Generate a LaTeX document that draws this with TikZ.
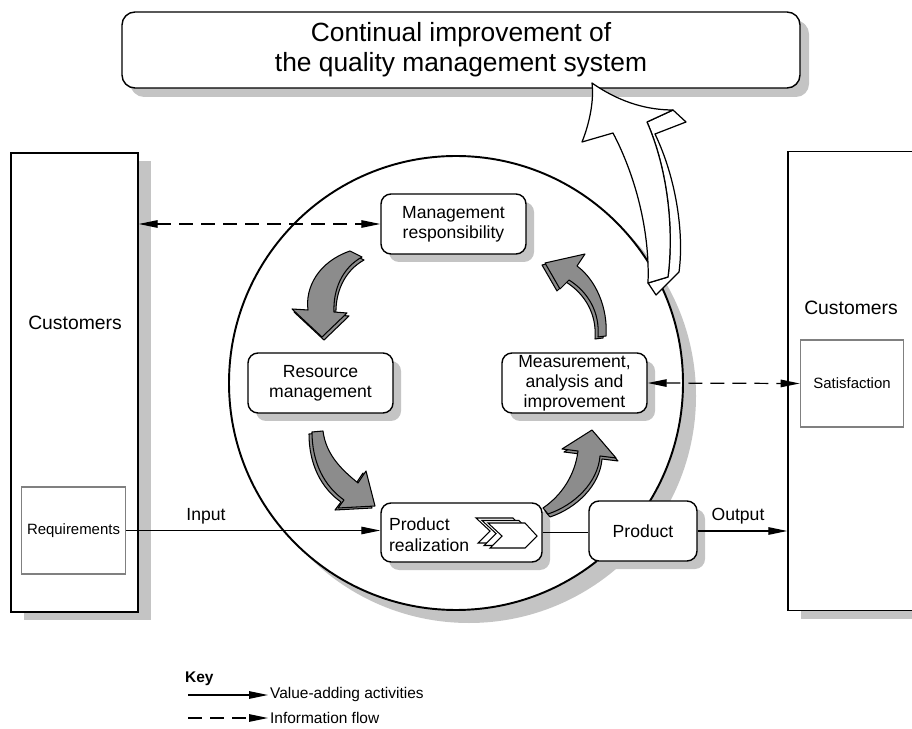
\documentclass[tikz,border=0pt]{standalone}
\usepackage{fontspec}
\setmainfont{Liberation Sans}
\usetikzlibrary{arrows.meta}
\usetikzlibrary{shadows}
\definecolor{shadowgrey}{HTML}{C4C4C4}
\definecolor{arrowgrey}{HTML}{8C8C8C}
\tikzset{
	>={Triangle[length=3.8mm,width=1.5mm]},
	boxshadow/.style={general shadow={fill=shadowgrey,shadow xshift=1.6mm,shadow yshift=-1.6mm}},
	procbox/.style={draw,fill=white,rounded corners=2mm,line width=0.8pt,minimum width=29mm,minimum height=12mm,inner sep=0pt,align=center,font=\fontsize{10}{11.5}\selectfont,boxshadow},
	custbox/.style={draw,fill=white,line width=0.8pt,minimum width=25.4mm,minimum height=91.8mm,inner sep=0pt,general shadow={fill=shadowgrey,shadow xshift=2.6mm,shadow yshift=-1.6mm}},
	needbox/.style={draw=gray,fill=white,line width=0.6pt,minimum width=20.7mm,minimum height=17.4mm,inner sep=0pt,font=\fontsize{8.5}{10}\selectfont},
	label text/.style={inner sep=1pt,font=\fontsize{10}{12}\selectfont},
	key text/.style={anchor=west,inner sep=1pt,font=\fontsize{8.8}{10}\selectfont},
	flow/.style={line width=0.7pt,->},
	info/.style={line width=0.7pt,dash pattern=on 2.8mm off 1.6mm},
	turn/.style={draw,fill=arrowgrey,line width=0.6pt,line join=round},
	bigturn/.style={draw,fill=white,line width=0.7pt,line join=round}
}
\begin{document}
\begin{tikzpicture}[x=0.2mm,y=-0.2mm]
	\useasboundingbox (0,0) rectangle (912,729);
	\clip (0,0) rectangle (912,729);
	\node[procbox,rounded corners=2.6mm,minimum width=135.6mm,minimum height=15.2mm,font=\fontsize{15}{17}\selectfont,general shadow={fill=shadowgrey,shadow xshift=1.8mm,shadow yshift=-1.8mm}] (title) at (461,50) {Continual improvement of\\the quality management system};
	\node[custbox] (custL) at (74.5,382.5) {};
	\node[custbox] (custR) at (851.5,381) {};
	\node[label text,font=\fontsize{11}{13}\selectfont] (custLtext) at (75,323) {Customers};
	\node[label text,font=\fontsize{11}{13}\selectfont] (custRtext) at (851,308) {Customers};
	\node[needbox] (req) at (73.5,530.5) {Requirements};
	\node[needbox] (satis) at (852,383.5) {Satisfaction};
	\node[circle,draw,fill=white,line width=1.1pt,minimum size=90.8mm,inner sep=0pt,general shadow={fill=shadowgrey,shadow xshift=2.6mm,shadow yshift=-2.6mm}] (qms) at (456,383) {};
	\draw[bigturn] (673,110) -- (686,122) -- (655,134) .. controls (677,180) and (684,235) .. (679,272) -- (656,295) -- (648,283) -- (668,277) .. controls (674,230) and (668,170) .. (647,122) -- cycle;
	\draw[bigturn] (592,83) .. controls (622,104) and (650,110) .. (673,110) -- (647,122) .. controls (668,170) and (674,230) .. (668,277) -- (648,283) .. controls (650,230) and (635,175) .. (613,133) -- (582,142) .. controls (590,122) and (594,100) .. (592,83) -- cycle;
	\node[procbox] (mgmt) at (453.5,224) {Management\\responsibility};
	\node[procbox] (resource) at (320.5,383) {Resource\\management};
	\node[procbox] (measure) at (574.5,383) {Measurement,\\analysis and\\improvement};
	\node[procbox,minimum width=32.2mm,minimum height=11.8mm] (realize) at (461.5,532.5) {};
	\node[procbox,minimum width=21.6mm] (product) at (643,531) {Product};
	\node[label text,anchor=west,align=left,font=\fontsize{10}{12}\selectfont] (realtext) at (387,535) {Product\\realization};
	\foreach \dx/\dy in {-12/-5,-6/-2.5,0/0}
		\draw[fill=white,line width=0.6pt,shift={(\dx,\dy)}] (488,523) -- (525,523) -- (537,536) -- (525,548) -- (490,548) -- (502,536) -- cycle;
	\foreach \s in {1,0} {
		\draw[turn,shift={(2*\s,3*\s)}] (350,251) .. controls (318,262) and (305,288) .. (308,310) -- (292,309) -- (322,337) -- (347,313) -- (334,312) .. controls (333,290) and (342,268) .. (362,257) -- cycle;
		\draw[turn,shift={(-3*\s,2*\s)}] (312,432) .. controls (312,462) and (324,486) .. (344,500) -- (338,508) -- (375,506) -- (366,471) -- (358,483) .. controls (342,470) and (326,455) .. (323,431) -- cycle;
		\draw[turn,shift={(2*\s,3*\s)}] (543,508) .. controls (562,495) and (575,475) .. (578,451) -- (562,449) -- (592,430) -- (616,458) -- (600,456) .. controls (598,482) and (575,505) .. (548,514) -- cycle;
		\draw[turn,shift={(-3*\s,2*\s)}] (598,337) .. controls (600,312) and (588,292) .. (569,280) -- (560,289) -- (545,263) -- (585,254) -- (577,266) .. controls (596,280) and (608,308) .. (606,336) -- cycle;
	}
	\draw[flow] (req.east) -- (req.east -| realize.west);
	\draw[line width=0.7pt] (realize.east) -- (realize.east -| product.west);
	\draw[flow] (product.east) -- (product.east -| custR.west);
	\draw[info,<->] (custL.east |- mgmt.west) -- (mgmt.west);
	\draw[info,<->] (measure.east) -- (satis.west);
	\node[label text] (input) at (206,516) {Input};
	\node[label text] (output) at (738,516) {Output};
	\node[key text,font=\fontsize{8.8}{10}\selectfont\bfseries] (key) at (183,679) {Key};
	\node[key text] (keyvalue) at (268,695) {Value-adding activities};
	\node[key text] (keyinfo) at (268,718) {Information flow};
	\coordinate (keyvalstart) at (188,695);
	\coordinate (keyinfostart) at (188,718);
	\draw[flow] (keyvalstart) -- (keyvalue.west);
	\draw[info,->] (keyinfostart) -- (keyinfo.west);
\end{tikzpicture}
\end{document}
